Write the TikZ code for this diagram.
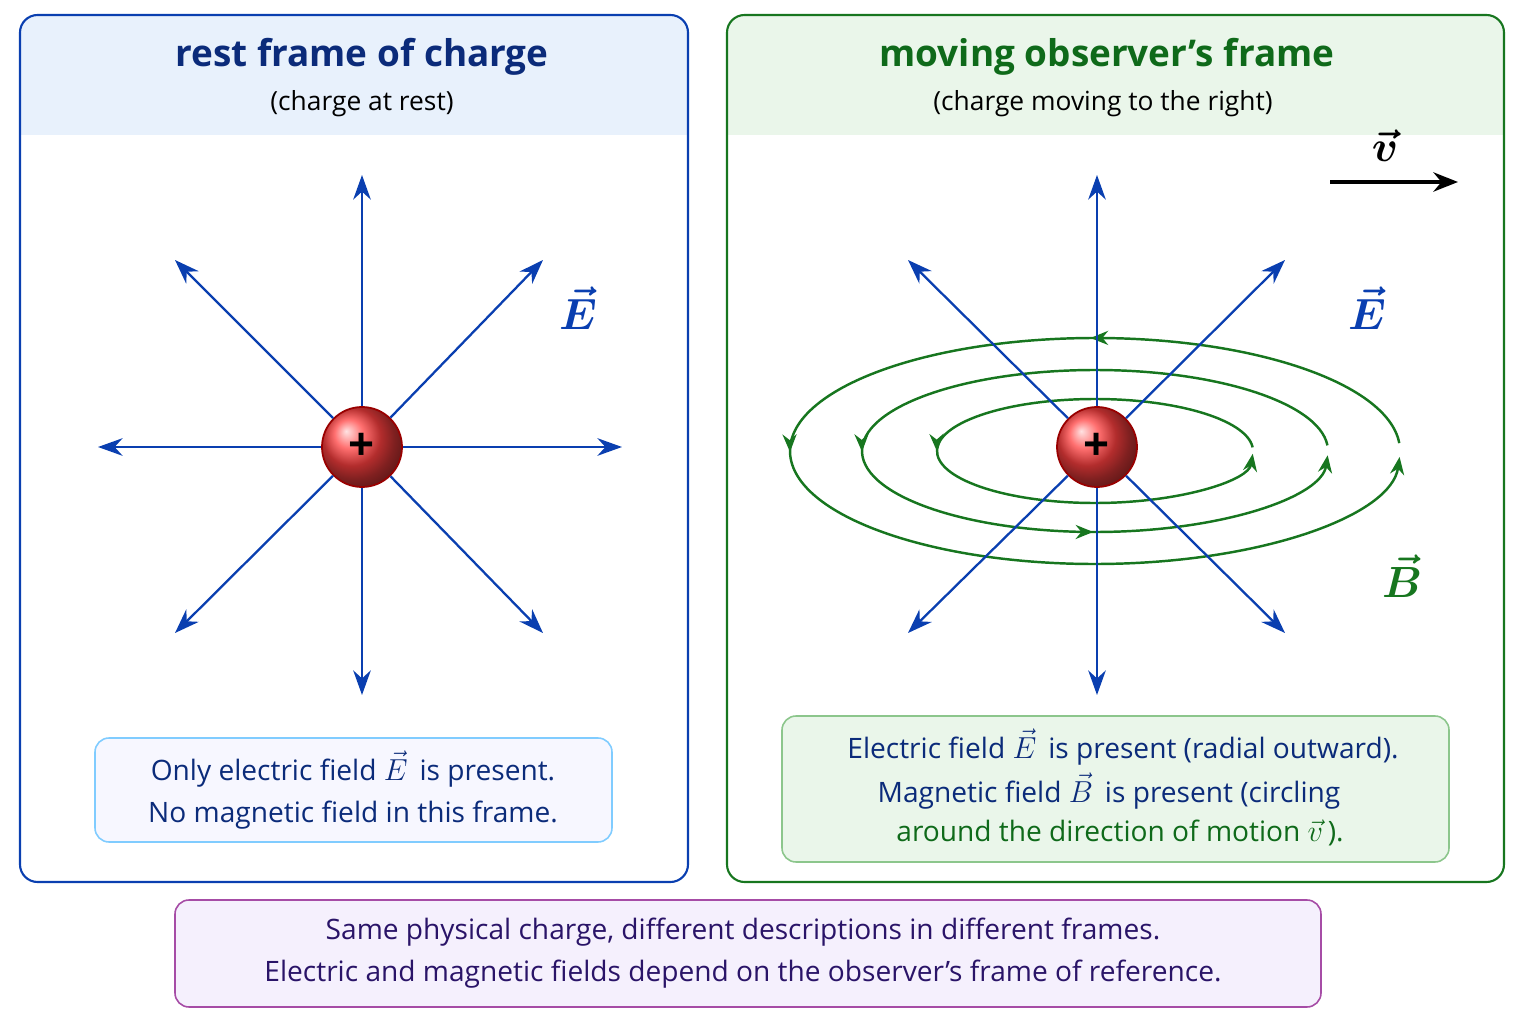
\documentclass[tikz,border=0pt]{standalone}
\usepackage{amsmath,bm}
\usepackage{fontspec}
\setmainfont{Open Sans}
\usepackage{xcolor}
\usetikzlibrary{arrows.meta,positioning,calc,decorations.markings}
\definecolor{fieldblue}{HTML}{0A3FB0}
\definecolor{fieldgreen}{HTML}{17761F}
\definecolor{titleblue}{HTML}{0B2B7A}
\definecolor{titlegreen}{HTML}{0F6A1A}
\definecolor{notepurple}{HTML}{2A1468}
\definecolor{headblue}{HTML}{E8F1FC}
\definecolor{headgreen}{HTML}{EAF6EA}
\definecolor{notelav}{HTML}{F5F0FD}

\begin{document}
\begin{tikzpicture}[
    x=0.02cm, y=-0.02cm,
    title/.style={font=\fontsize{21}{24}\selectfont\bfseries, anchor=center},
    sub/.style={font=\fontsize{15}{18}\selectfont, anchor=center},
    note/.style={font=\fontsize{16}{24}\selectfont, align=center, text=titleblue},
    efield/.style={-{Stealth[length=14pt,width=10pt]}, fieldblue, line width=1.3pt},
    bfield/.style={fieldgreen, line width=1.4pt},
    charge/.style={circle, minimum size=80*0.02cm, draw=red!60!black, line width=1pt, ball color=red!75, font=\fontsize{26}{26}\selectfont\bfseries, inner sep=0pt},
    flabel/.style={font=\fontsize{24}{24}\selectfont, inner sep=1pt}
]
    \useasboundingbox (0,0) rectangle (1536,1024);

    % Panels
    \begin{scope}
      \clip[rounded corners=10pt] (20,15) rectangle (688,882);
      \fill[headblue] (20,15) rectangle (688,135);
    \end{scope}
    \draw[line width=1.2pt, rounded corners=10pt, draw=fieldblue] (20,15) rectangle (688,882);
    \begin{scope}
      \clip[rounded corners=10pt] (727,15) rectangle (1504,882);
      \fill[headgreen] (727,15) rectangle (1504,135);
    \end{scope}
    \draw[line width=1.2pt, rounded corners=10pt, draw=fieldgreen] (727,15) rectangle (1504,882);

    % Titles
    \node[title, text=titleblue] (ltitle) at (362,57) {rest frame of charge};
    \node[sub] (lsub) at (362,104) {(charge at rest)};
    \node[title, text=titlegreen] (rtitle) at (1107,57) {moving observer’s frame};
    \node[sub] (rsub) at (1103,104) {(charge moving to the right)};

    % Left charge and field
    \node[charge] (q1) at (362,447) {+};
    \foreach \name/\x/\y in {n/362/175, s/362/695, w/98/447, e/622/447,
                             nw/175/260, ne/543/260, sw/175/633, se/543/633}
      \coordinate (l\name) at (\x,\y);
    \foreach \name in {n,s,w,e,nw,ne,sw,se}
      \draw[efield] (q1) -- (l\name);
    \node[flabel, text=fieldblue] (le) at (578,308) {$\bm{\vec{E}}$};

    % Right charge, magnetic loops
    \coordinate (c) at (1095,451);
    \begin{scope}[decoration={markings,
        mark=at position 0.25 with {\arrow{Stealth[length=10pt,width=8pt]}},
        mark=at position 0.5 with {\arrow{Stealth[length=10pt,width=8pt]}}}]
      \draw[bfield, postaction={decorate}, -{Stealth[length=10pt,width=8pt]}]
        ($(c)+(-4:305 and 113)$) arc[start angle=-4, end angle=-357, x radius=305, y radius=113];
    \end{scope}
    \begin{scope}[decoration={markings,
        mark=at position 0.5 with {\arrow{Stealth[length=10pt,width=8pt]}},
        mark=at position 0.75 with {\arrow{Stealth[length=10pt,width=8pt]}}}]
      \draw[bfield, postaction={decorate}, -{Stealth[length=10pt,width=8pt]}]
        ($(c)+(-4:233 and 81)$) arc[start angle=-4, end angle=-357, x radius=233, y radius=81];
    \end{scope}
    \begin{scope}[decoration={markings,
        mark=at position 0.5 with {\arrow{Stealth[length=10pt,width=8pt]}}}]
      \draw[bfield, postaction={decorate}, -{Stealth[length=10pt,width=8pt]}]
        ($(c)+(-4:158 and 52)$) arc[start angle=-4, end angle=-357, x radius=158, y radius=52];
    \end{scope}

    % Right charge and field
    \node[charge] (q2) at (1097,447) {+};
    \foreach \name/\x/\y in {n/1097/175, s/1097/695,
                             nw/908/260, ne/1285/260, sw/908/633, se/1285/633}
      \coordinate (r\name) at (\x,\y);
    \foreach \name in {n,s,nw,ne,sw,se}
      \draw[efield] (q2) -- (r\name);
    \node[flabel, text=fieldblue] (re) at (1367,308) {$\bm{\vec{E}}$};
    \node[flabel, text=fieldgreen] (rb) at (1402,576) {$\bm{\vec{B}}$};

    % Velocity
    \coordinate (v0) at (1330,182);
    \coordinate (v1) at (1458,182);
    \draw[-{Stealth[length=14pt,width=11pt]}, line width=1.8pt] (v0) -- (v1);
    \node[flabel] (vlab) at (1385,146) {$\bm{\vec{v}}$};

    % Notes
    \draw[rounded corners=8pt, draw=blue!40!cyan!50, fill=blue!3, line width=0.9pt] (95,738) rectangle (612,842);
    \node[note] (lnote) at (353,790) {Only electric field $\vec{E}$\, is present.\\No magnetic field in this frame.};
    \draw[rounded corners=8pt, draw=green!50!black!45, fill=headgreen, line width=0.9pt] (782,716) rectangle (1449,862);
    \node[note, text=titleblue] (rnote1) at (1123,747) {Electric field $\vec{E}$\, is present (radial outward).};
    \node[note, text=titleblue] (rnote2) at (1109,791) {Magnetic field $\vec{B}$\, is present (circling};
    \node[note, text=titlegreen] (rnote3) at (1120,833) {around the direction of motion $\vec{v}$\,).};
    \draw[rounded corners=8pt, draw=violet!70, fill=notelav, line width=0.9pt] (175,900) rectangle (1321,1007);
    \node[note, text=notepurple] (bnote) at (743,953) {Same physical charge, different descriptions in different frames.\\Electric and magnetic fields depend on the observer’s frame of reference.};
\end{tikzpicture}
\end{document}
